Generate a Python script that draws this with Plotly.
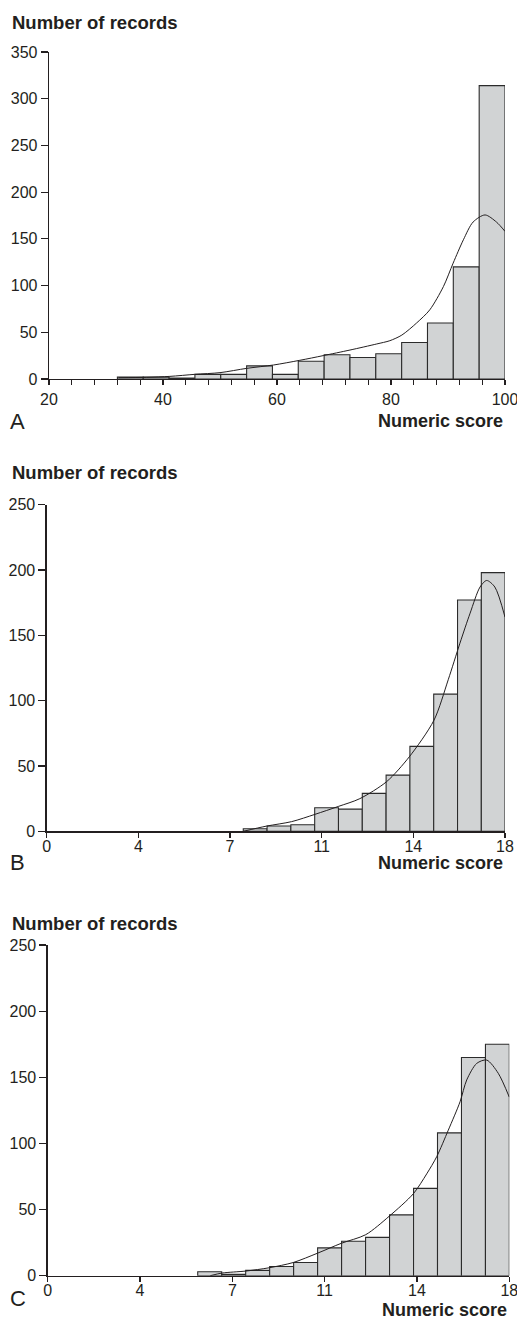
import plotly.graph_objects as go

W, H = 517, 1322

# ---------------- Data ----------------
# Panel A
a_bin_edges = [32, 36.53, 41.07, 45.6, 50.13, 54.67, 59.2, 63.73, 68.27, 72.8,
               77.33, 81.87, 86.4, 90.93, 95.47, 100]
a_counts = [2, 2, 1, 5, 5, 14, 5, 19, 26, 23, 27, 39, 60, 120, 314]
a_curve_x = [32.2, 37.1, 41.2, 45.6, 50, 54.7, 59.4, 64, 68.1, 72.8, 77.5, 79.8,
             81.9, 84.5, 86.8, 89.2, 90.9, 92.7, 94.4, 96.5, 98.5, 100]
a_curve_y = [1.4, 1.8, 2.8, 5, 6.8, 11.4, 15, 20, 25, 31, 37.5, 41,
             47, 60, 74, 99, 124, 149, 168, 175.6, 168, 158]
a_xticks = [20, 24, 28, 32, 36, 40, 44, 48, 52, 56, 60, 64, 68, 72, 76, 80, 84, 88, 92, 96, 100]
a_xtick_labels = ["20", "", "", "", "", "40", "", "", "", "", "60", "", "", "", "",
                  "80", "", "", "", "", "100"]
a_yticks = [0, 50, 100, 150, 200, 250, 300, 350]

# Panel B
b_bin_edges = [7.72, 8.655, 9.59, 10.525, 11.46, 12.395, 13.33, 14.265, 15.2,
               16.135, 17.07, 18.0]
b_counts = [2, 4, 5, 18, 17, 29, 43, 65, 105, 177, 198]
b_curve_x = [7.72, 8.64, 9.62, 10.54, 11.45, 12.3, 13.35, 14.24, 15.21, 15.77,
             16.23, 16.63, 17.02, 17.28, 17.6, 18]
b_curve_y = [0, 4, 7.4, 13, 19, 25, 38, 57, 85, 116, 144, 167, 187, 192, 187, 164]

# Panel C
c_bin_edges = [5.85, 6.785, 7.72, 8.655, 9.59, 10.525, 11.46, 12.395, 13.33,
               14.265, 15.2, 16.135, 17.07, 18.0]
c_counts = [3, 1, 4, 7, 10, 21, 26, 29, 46, 66, 108, 165, 175]
c_curve_x = [6.34, 6.8, 7.72, 8.64, 9.58, 10.52, 11.45, 12.4, 13.32, 14.26, 14.78,
             15.17, 15.62, 16.08, 16.34, 16.73, 17.12, 17.57, 18]
c_curve_y = [0, 2, 3.5, 6, 10, 17, 24.5, 31, 45, 62, 77, 90, 110, 131.5, 148,
             160.5, 163, 153, 135]

bc_xticks = [0, 3.6, 7.2, 10.8, 14.4, 18]
bc_xtick_labels = ["0", "4", "7", "11", "14", "18"]
bc_yticks = [0, 50, 100, 150, 200, 250]

panel_letters = ["A", "B", "C"]
y_title = "Number of records"
x_title = "Numeric score"

# ---------------- Styling ----------------
INK = "#231f20"
BAR_FILL = "#d1d3d4"
FONT = "Liberation Sans, Arial, sans-serif"


def px_x(p):
    return p / W


def px_y(p):
    return 1 - p / H


panels = [
    dict(edges=a_bin_edges, counts=a_counts, cx=a_curve_x, cy=a_curve_y,
         xr=[20, 100], yr=[0, 350], xt=a_xticks, xtl=a_xtick_labels, yt=a_yticks,
         dom_x=(49, 505), dom_y=(52, 379), standoff=0,
         title_y=22, xtitle_y=421, xtitle_right=505, letter_y=421),
    dict(edges=b_bin_edges, counts=b_counts, cx=b_curve_x, cy=b_curve_y,
         xr=[0, 18], yr=[0, 250], xt=bc_xticks, xtl=bc_xtick_labels, yt=bc_yticks,
         dom_x=(46.7, 505), dom_y=(504.7, 831.3), standoff=-5,
         title_y=473, xtitle_y=863, xtitle_right=505, letter_y=862),
    dict(edges=c_bin_edges, counts=c_counts, cx=c_curve_x, cy=c_curve_y,
         xr=[0, 18], yr=[0, 250], xt=bc_xticks, xtl=bc_xtick_labels, yt=bc_yticks,
         dom_x=(47.7, 509.3), dom_y=(945, 1275.7), standoff=-5,
         title_y=923, xtitle_y=1310, xtitle_right=509, letter_y=1298),
]

fig = go.Figure()
layout = dict(
    template="none",
    width=W, height=H,
    margin=dict(l=0, r=0, t=0, b=0, pad=0, autoexpand=False),
    paper_bgcolor="white", plot_bgcolor="white",
    showlegend=False, bargap=0,
    font=dict(family=FONT, color=INK, size=16),
)
annotations = []

for i, p in enumerate(panels):
    n = "" if i == 0 else str(i + 1)
    xa, ya = "x" + n, "y" + n
    edges = p["edges"]
    centers = [(edges[k] + edges[k + 1]) / 2 for k in range(len(edges) - 1)]
    widths = [edges[k + 1] - edges[k] for k in range(len(edges) - 1)]
    fig.add_trace(go.Bar(
        x=centers, y=p["counts"], width=widths, xaxis=xa, yaxis=ya,
        marker=dict(color=BAR_FILL, line=dict(color="#2b2b2b", width=1.1)),
        hoverinfo="skip",
    ))
    fig.add_trace(go.Scatter(
        x=p["cx"], y=p["cy"], xaxis=xa, yaxis=ya, mode="lines",
        line=dict(color=INK, width=1, shape="spline", smoothing=0.8),
        hoverinfo="skip",
    ))
    layout["xaxis" + n] = dict(
        domain=[px_x(p["dom_x"][0]), px_x(p["dom_x"][1])],
        anchor=ya, range=p["xr"], showgrid=False, zeroline=False,
        showline=True, linecolor=INK, linewidth=1.3, automargin=False,
        ticks="outside", ticklen=5, tickwidth=1.2, tickcolor=INK,
        tickvals=p["xt"], ticktext=p["xtl"], ticklabelstandoff=p["standoff"],
        ticklabeloverflow="allow",
        tickfont=dict(size=16, color=INK, family=FONT),
        fixedrange=True,
    )
    layout["yaxis" + n] = dict(
        domain=[px_y(p["dom_y"][1]), px_y(p["dom_y"][0])],
        anchor=xa, range=p["yr"], showgrid=False, zeroline=False,
        showline=True, linecolor=INK, linewidth=1.3, automargin=False,
        ticks="outside", ticklen=7, tickwidth=1.2, tickcolor=INK,
        tickvals=p["yt"], ticklabeloverflow="allow",
        tickfont=dict(size=16, color=INK, family=FONT),
        fixedrange=True,
    )
    annotations.append(dict(
        text=y_title, xref="paper", yref="paper", x=px_x(10), y=px_y(p["title_y"]),
        xanchor="left", yanchor="middle", showarrow=False,
        font=dict(size=18.5, color=INK, family=FONT, weight="bold"),
    ))
    annotations.append(dict(
        text=x_title, xref="paper", yref="paper", x=px_x(p["xtitle_right"]),
        y=px_y(p["xtitle_y"]), xanchor="right", yanchor="middle", showarrow=False,
        font=dict(size=18, color=INK, family=FONT, weight="bold"),
    ))
    annotations.append(dict(
        text=panel_letters[i], xref="paper", yref="paper", x=px_x(8),
        y=px_y(p["letter_y"]), xanchor="left", yanchor="middle", showarrow=False,
        font=dict(size=22, color=INK, family=FONT),
    ))

layout["annotations"] = annotations
fig.update_layout(**layout)
fig.write_html(
    "out.html",
    config={"displayModeBar": False, "staticPlot": True},
    post_script="document.body.style.margin='0';document.body.style.padding='0';",
)
